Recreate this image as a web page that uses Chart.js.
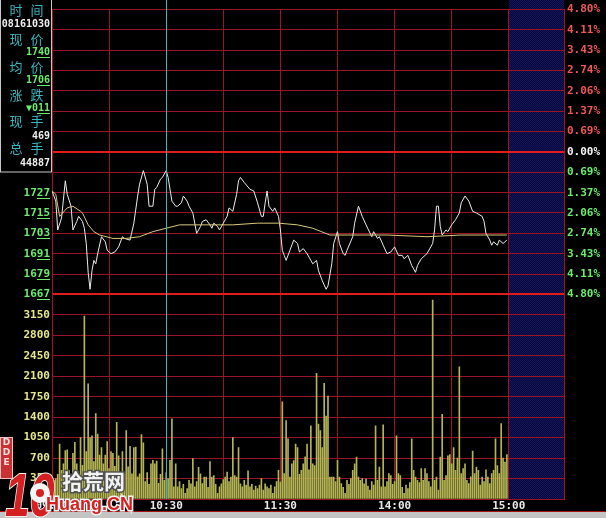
<!DOCTYPE html>
<html>
<head>
<meta charset="utf-8">
<script src="https://cdn.jsdelivr.net/npm/chart.js@4.4.1/dist/chart.umd.min.js"></script>
<style>
  html, body { margin: 0; padding: 0; background: #000; }
  canvas { display: block; }
</style>
</head>
<body>
<canvas id="fenshi" width="606" height="518"></canvas>
<script>
/* 分时图 — 价格线 + 均价线 + 成交量柱 */

const PREV_CLOSE = 1751;
const PRICE_TICKS = [1667, 1679, 1691, 1703, 1715, 1727, 1739, 1751, 1763, 1775, 1787, 1799, 1811, 1823, 1835];
const VOL_TICKS = [0, 350, 700, 1050, 1400, 1750, 2100, 2450, 2800, 3150, 3500];
const GRID_MIN = [0, 30, 60, 90, 120, 150, 180, 210, 240];
const TIME_TICK_MIN = [0, 60, 120, 180, 240];
const TIME_LABELS = ['09:30', '10:30', '11:30', '14:00', '15:00'];
const CURSOR_MIN = 60;

// 价格线 (分钟, 价格)
const PRICE_MIN = [0, 2, 3, 5, 7, 8, 10, 11, 13, 14, 16, 17, 18, 19, 20, 21, 22, 23, 24, 26, 28, 29, 31, 33, 35, 37, 38, 41, 43, 45, 46, 48, 50, 51, 53, 54, 55, 57, 58, 60,
  61, 63, 65, 66, 68, 69, 71, 72, 74, 76, 78, 79, 81, 83, 84, 85, 87, 88, 90, 92, 93, 95, 97, 98, 99, 101, 104, 106, 108, 110, 111, 112, 113, 114, 116, 117, 119, 120,
  121, 122, 123, 125, 127, 129, 130, 132, 134, 136, 137, 139, 140, 142, 144, 145, 147, 148, 150, 151, 153, 154, 155, 158, 159, 161, 163, 165, 168, 169, 171, 172, 174, 176, 178, 180,
  182, 184, 185, 187, 189, 191, 192, 194, 196, 197, 200, 201, 202, 203, 204, 205, 207, 208, 210, 212, 214, 215, 217, 219, 221, 223, 226, 227, 228, 230, 231, 232, 234, 235, 237, 238, 239];
const PRICE_VAL = [1728, 1722, 1705, 1712, 1734, 1726, 1719, 1705, 1710, 1713, 1710, 1706, 1697, 1680, 1670, 1681, 1687, 1685, 1691, 1701, 1698, 1693, 1691, 1692, 1695, 1701, 1700, 1699, 1709, 1725, 1732, 1740, 1732, 1719, 1719, 1729, 1730, 1735, 1736, 1740,
  1736, 1722, 1719, 1719, 1721, 1725, 1722, 1719, 1715, 1703, 1707, 1710, 1711, 1708, 1706, 1709, 1707, 1705, 1709, 1713, 1718, 1716, 1726, 1734, 1736, 1733, 1729, 1728, 1721, 1713, 1713, 1721, 1728, 1719, 1716, 1718, 1713, 1705,
  1693, 1690, 1687, 1693, 1699, 1697, 1692, 1694, 1691, 1687, 1685, 1687, 1681, 1675, 1670, 1672, 1685, 1697, 1704, 1697, 1691, 1690, 1693, 1701, 1709, 1719, 1713, 1708, 1701, 1704, 1700, 1701, 1696, 1691, 1692, 1695,
  1690, 1690, 1688, 1690, 1684, 1680, 1684, 1688, 1690, 1691, 1697, 1705, 1719, 1719, 1707, 1702, 1705, 1704, 1708, 1711, 1715, 1721, 1725, 1722, 1716, 1715, 1713, 1710, 1703, 1699, 1696, 1698, 1696, 1699, 1697, 1698, 1699];

// 均价线
const AVG_MIN = [0, 2, 4, 8, 11, 15, 16, 19, 22, 25, 32, 39, 46, 53, 60, 67, 78, 95, 108, 119, 129, 137, 146, 155, 165, 176, 197, 215, 239];
const AVG_VAL = [1728, 1726, 1713, 1718, 1719, 1716, 1715, 1708, 1704, 1702, 1700, 1700, 1701, 1704, 1706, 1708, 1708, 1708, 1709, 1709, 1708, 1706, 1702, 1702, 1702, 1702, 1701, 1702, 1702];

// 每分钟成交量 (09:30 起)
const VOLUMES = [
  290, 320, 350, 420, 940, 490, 600, 830, 840, 490, 380, 780, 970, 600, 420, 1050, 575, 3130, 810, 1970,
  1050, 1080, 640, 1460, 1110, 750, 880, 600, 750, 980, 520, 810, 780, 560, 1310, 740, 460, 810, 420, 1170,
  550, 900, 430, 880, 890, 380, 430, 1100, 960, 300, 450, 250, 600, 660, 600, 650, 270, 420, 860, 320,
  450, 350, 660, 1370, 210, 600, 210, 300, 180, 250, 96, 180, 320, 260, 690, 210, 300, 540, 430, 265,
  377, 377, 200, 640, 377, 400, 250, 96, 208, 260, 330, 377, 460, 300, 377, 1050, 400, 377, 880, 260,
  208, 320, 240, 480, 208, 250, 152, 220, 180, 240, 350, 152, 260, 208, 180, 240, 96, 208, 300, 490,
  290, 1660, 434, 1340, 1030, 377, 603, 659, 940, 880, 420, 490, 600, 720, 940, 500, 1250, 600, 570, 2150,
  1280, 1170, 880, 1980, 1420, 1760, 377, 377, 377, 300, 660, 377, 265, 200, 96, 321, 250, 350, 490, 600,
  715, 377, 321, 350, 260, 340, 220, 152, 300, 240, 1250, 321, 546, 208, 1270, 208, 300, 434, 400, 250,
  300, 1080, 434, 400, 200, 96, 240, 180, 280, 1030, 490, 377, 321, 280, 520, 321, 520, 434, 300, 208,
  3400, 321, 377, 152, 715, 1450, 321, 400, 740, 760, 600, 880, 490, 700, 2260, 434, 520, 600, 321, 265,
  380, 820, 434, 546, 490, 240, 377, 300, 500, 377, 265, 434, 490, 1030, 570, 434, 1290, 700, 630, 760
];

const INFO_LABELS = ['时间', '现价', '均价', '涨跌', '现手', '总手'];
const INFO_VALUES = ['08161030', '1740', '1706', '▼011', '469', '44887'];

// 上半区(价格)占整个绘图区高度的比例: 288 / 495
const PRICE_SHARE = 288 / 495;
const P_MAX = PRICE_TICKS[PRICE_TICKS.length - 1];
const P_MIN = P_MAX - (P_MAX - PRICE_TICKS[0]) / PRICE_SHARE;
const V_MAX = VOL_TICKS[VOL_TICKS.length - 1] / (1 - PRICE_SHARE);
const X_MAX = 269;

const RED_GRID = '#9c1424';
const RED_BOLD = '#e01c1c';
const GREEN = '#6cee6c';
const CLEAR = 'rgba(0,0,0,0)';
const MONO = '"DejaVu Sans Mono", monospace';

const isBold = v => v === PREV_CLOSE || v === PRICE_TICKS[0];

function bluePattern(ctx) {
  const c = document.createElement('canvas');
  c.width = 2; c.height = 2;
  const g = c.getContext('2d');
  g.fillStyle = '#07073a';
  g.fillRect(0, 0, 2, 2);
  g.fillStyle = '#15155c';
  g.fillRect(0, 0, 1, 1);
  g.fillRect(1, 1, 1, 1);
  return ctx.createPattern(c, 'repeat');
}

const fons = {
  id: 'fons',
  beforeDraw(chart) {
    const { ctx, chartArea: a, scales: { x } } = chart;
    ctx.save();
    ctx.fillStyle = '#000';
    ctx.fillRect(0, 0, chart.width, chart.height);
    const x0 = x.getPixelForValue(240);
    ctx.fillStyle = bluePattern(ctx);
    ctx.fillRect(x0, 0, a.right - x0, a.bottom);
    ctx.fillStyle = '#c4c4c4';
    ctx.fillRect(0, 512, chart.width, chart.height - 512);
    ctx.strokeStyle = '#a01414';
    ctx.beginPath();
    ctx.moveTo(0, 511.5); ctx.lineTo(chart.width, 511.5);
    ctx.stroke();
    ctx.restore();
  }
};

function underline(ctx, xRight, yMid, color) {
  ctx.strokeStyle = color;
  ctx.lineWidth = 1;
  ctx.beginPath();
  ctx.moveTo(xRight - 13, Math.round(yMid + 5) + 0.5);
  ctx.lineTo(xRight, Math.round(yMid + 5) + 0.5);
  ctx.stroke();
}

const capa = {
  id: 'capa',
  afterDraw(chart) {
    const { ctx, chartArea: a, scales: { x, yP } } = chart;
    ctx.save();

    // 光标竖线
    const cx = Math.round(x.getPixelForValue(CURSOR_MIN)) + 0.5;
    ctx.strokeStyle = '#3cb6b6';
    ctx.lineWidth = 1;
    ctx.beginPath();
    ctx.moveTo(cx, 0); ctx.lineTo(cx, a.bottom);
    ctx.stroke();

    // 价格刻度的小数下划线
    PRICE_TICKS.filter(v => v <= 1727).forEach(v => underline(ctx, 50, yP.getPixelForValue(v), GREEN));

    // 信息框
    ctx.fillStyle = '#000';
    ctx.fillRect(0, 0, 51, 172);
    ctx.strokeStyle = '#c8c8c8';
    ctx.strokeRect(0.5, -1, 51, 173);
    const labelY = [10, 39, 67, 95, 121, 148];
    const valueY = [24, 52, 80, 108, 136, 163];
    const valueCol = ['#f0f0f0', GREEN, GREEN, GREEN, '#f0f0f0', '#f0f0f0'];
    ctx.textBaseline = 'middle';
    INFO_LABELS.forEach((t, i) => {
      ctx.font = '13px "Noto Sans CJK SC", sans-serif';
      ctx.fillStyle = '#38b8c0';
      ctx.textAlign = 'center';
      ctx.fillText(t[0], 16, labelY[i]);
      ctx.fillText(t[1], 37, labelY[i]);
      ctx.font = 'bold 10px ' + MONO;
      ctx.fillStyle = valueCol[i];
      ctx.textAlign = 'right';
      ctx.fillText(INFO_VALUES[i], 50, valueY[i]);
      if (i >= 1 && i <= 3) underline(ctx, 50, valueY[i], GREEN);
    });

    // DDE 标签
    ctx.fillStyle = '#c83232';
    ctx.fillRect(0, 437, 13, 42);
    ctx.strokeStyle = '#f0c0c0';
    ctx.strokeRect(0.5, 437.5, 12, 41);
    ctx.fillStyle = '#fbe0e0';
    ctx.font = 'bold 9px "DejaVu Sans", sans-serif';
    ctx.textAlign = 'center';
    ['D', 'D', 'E'].forEach((c, i) => ctx.fillText(c, 6.5, 443 + i * 10));

    // 水印
    ctx.textAlign = 'left';
    ctx.textBaseline = 'alphabetic';
    ctx.save();
    ctx.translate(5, 516);
    ctx.scale(0.72, 1);
    ctx.font = 'italic bold 62px "Liberation Sans", sans-serif';
    ctx.lineWidth = 2;
    ctx.strokeStyle = '#f2f2f2';
    ctx.strokeText('10', 0, 0);
    ctx.fillStyle = '#d42020';
    ctx.fillText('10', 0, 0);
    ctx.restore();
    ctx.beginPath();
    ctx.arc(40, 493, 10, 0, Math.PI * 2);
    ctx.fillStyle = '#f4f4f4';
    ctx.fill();
    ctx.beginPath();
    ctx.arc(40, 493, 4, 0, Math.PI * 2);
    ctx.fillStyle = '#d42020';
    ctx.fill();

    ctx.font = 'bold 21px "Noto Sans CJK SC", sans-serif';
    ctx.lineWidth = 3;
    ctx.strokeStyle = '#505050';
    ctx.strokeText('拾荒网', 62, 489);
    ctx.fillStyle = '#f2f2f2';
    ctx.fillText('拾荒网', 62, 489);

    ctx.font = 'bold 18px "Liberation Sans", sans-serif';
    ctx.lineWidth = 3;
    ctx.strokeStyle = '#f4f4f4';
    ctx.strokeText('Huang.CN', 46, 510);
    ctx.fillStyle = '#d42020';
    ctx.fillText('Huang.CN', 46, 510);

    ctx.restore();
  }
};

const tickFont = { family: MONO, size: 11, weight: 'bold' };
const fixTicks = list => s => { s.ticks = list.map(v => ({ value: v })); };
const pct = v => (Math.abs(v - PREV_CLOSE) / PREV_CLOSE * 100).toFixed(2) + '%';

new Chart(document.getElementById('fenshi').getContext('2d'), {
  data: {
    datasets: [
      {
        type: 'bar',
        data: VOLUMES.map((v, i) => ({ x: i, y: v })),
        xAxisID: 'x', yAxisID: 'yV',
        backgroundColor: '#b4b454',
        barThickness: 1,
        grouped: false,
      },
      {
        type: 'line',
        data: AVG_MIN.map((m, i) => ({ x: m, y: AVG_VAL[i] })),
        xAxisID: 'x', yAxisID: 'yP',
        borderColor: '#d8c87a', borderWidth: 1, pointRadius: 0, tension: 0,
      },
      {
        type: 'line',
        data: PRICE_MIN.map((m, i) => ({ x: m, y: PRICE_VAL[i] })),
        xAxisID: 'x', yAxisID: 'yP',
        borderColor: '#ececec', borderWidth: 1, pointRadius: 0, tension: 0,
      },
    ]
  },
  options: {
    responsive: false,
    animation: false,
    devicePixelRatio: 1,
    layout: { padding: { top: 4, left: 0, right: 0, bottom: 0 } },
    plugins: { legend: { display: false }, tooltip: { enabled: false } },
    scales: {
      x: {
        type: 'linear', min: 0, max: X_MAX, offset: false,
        afterBuildTicks: fixTicks(GRID_MIN),
        afterFit: s => { s.height = 19; },
        grid: { color: RED_GRID, drawTicks: false, offset: false },
        border: { color: RED_GRID },
        ticks: {
          color: '#e8e8e8', font: tickFont, padding: 1, maxRotation: 0, autoSkip: false,
          callback: v => { const k = TIME_TICK_MIN.indexOf(v); return k < 0 ? '' : TIME_LABELS[k]; }
        }
      },
      yP: {
        type: 'linear', position: 'left', weight: 1,
        min: P_MIN, max: P_MAX,
        afterBuildTicks: fixTicks(PRICE_TICKS),
        afterFit: s => { s.width = 52; },
        grid: {
          color: c => isBold(c.tick.value) ? RED_BOLD : RED_GRID,
          lineWidth: c => isBold(c.tick.value) ? 2 : 1,
          drawTicks: false
        },
        border: { color: RED_GRID },
        ticks: { color: GREEN, font: tickFont, padding: 2, callback: v => v <= 1727 ? String(v) : '' }
      },
      yV: {
        // 宽度为 0, 刻度文字镜像后右对齐到 x≈50
        type: 'linear', position: 'left', weight: 0,
        min: 0, max: V_MAX,
        afterBuildTicks: fixTicks(VOL_TICKS),
        afterFit: s => { s.width = 0; },
        grid: { color: c => (c.tick.value === 0 || c.tick.value === 3500) ? CLEAR : RED_GRID, drawTicks: false },
        border: { color: RED_GRID },
        ticks: {
          color: '#e6e68c', font: tickFont, mirror: true, crossAlign: 'far', padding: -28.5,
          callback: v => (v === 0 || v === 3500) ? '' : String(v)
        }
      },
      yR: {
        type: 'linear', position: 'right',
        min: P_MIN, max: P_MAX,
        afterBuildTicks: fixTicks(PRICE_TICKS),
        afterFit: s => { s.width = 42; },
        grid: { display: false, drawTicks: false },
        border: { color: RED_GRID },
        ticks: {
          font: tickFont, padding: 3, callback: pct,
          color: c => c.tick.value > PREV_CLOSE ? '#f05858' : (c.tick.value === PREV_CLOSE ? '#f4f4f4' : GREEN)
        }
      }
    }
  },
  plugins: [fons, capa]
});
</script>
</body>
</html>
